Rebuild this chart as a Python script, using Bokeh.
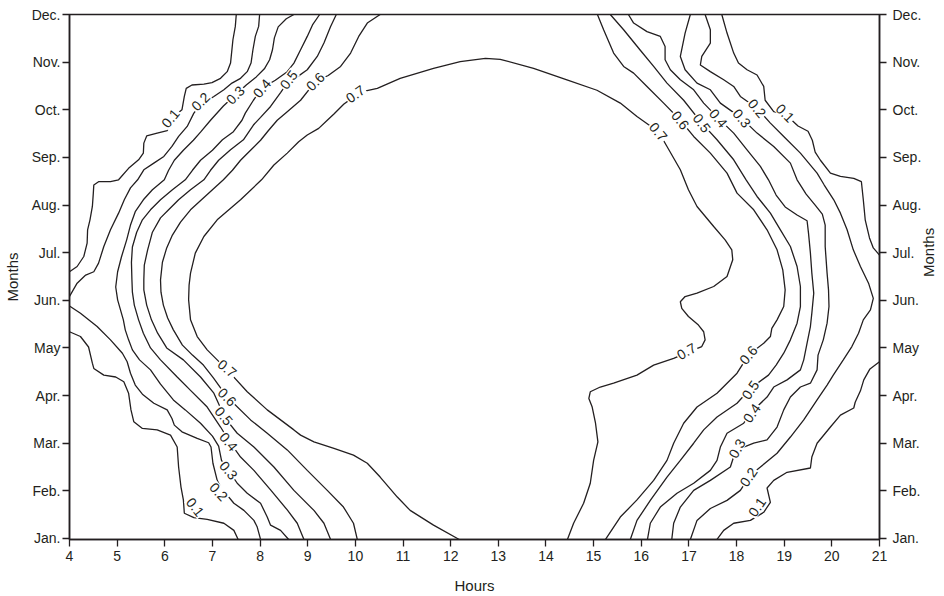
import math
from bokeh.plotting import figure
from bokeh.models import Range1d, FixedTicker, LinearAxis, Text
from bokeh.embed import file_html
from bokeh.resources import INLINE
from bokeh.core.properties import value

# ---------------- axis data ----------------
hour_ticks = list(range(4, 22))
month_ticks = list(range(1, 13))
month_labels = ["Jan.", "Feb.", "Mar.", "Apr.", "May", "Jun.",
                "Jul.", "Aug.", "Sep.", "Oct.", "Nov.", "Dec."]

# ---------------- contour lines (hour of day, month index 1=Jan .. 12=Dec) ----------------
# level 0.1, morning, upper branch
c01_am_up_h = [7.50, 7.48, 7.43, 7.38, 7.31, 7.17, 6.99, 6.82, 6.57, 6.45, 6.41, 6.36, 6.20, 6.05, 5.84, 5.62,
               5.56, 5.55, 5.45, 5.24, 5.03, 4.86, 4.61, 4.51, 4.50, 4.48, 4.43, 4.38, 4.37, 4.30, 4.16, 4.00]
c01_am_up_m = [12.00, 11.75, 11.47, 10.98, 10.80, 10.66, 10.57, 10.54, 10.52, 10.45, 10.28, 10.00, 9.87, 9.56,
               9.51, 9.45, 9.30, 9.09, 8.95, 8.77, 8.53, 8.49, 8.49, 8.42, 8.25, 7.97, 7.69, 7.48, 7.20, 6.92,
               6.71, 6.60]
# level 0.1, morning, lower branch
c01_am_lo_h = [4.00, 4.23, 4.40, 4.48, 4.51, 4.72, 4.97, 5.14, 5.24, 5.29, 5.35, 5.53, 5.84, 6.12, 6.26, 6.29,
               6.34, 6.39, 6.41, 6.61, 6.89, 7.24, 7.45, 7.54]
c01_am_lo_m = [5.34, 5.24, 5.02, 4.68, 4.57, 4.43, 4.39, 4.29, 4.05, 3.70, 3.45, 3.31, 3.28, 3.17, 2.92, 2.50,
               2.08, 1.81, 1.53, 1.44, 1.40, 1.32, 1.17, 0.98]
# level 0.2, morning, upper branch
c02_am_up_h = [7.99, 7.97, 7.90, 7.85, 7.81, 7.73, 7.59, 7.41, 7.24, 7.03, 6.75, 6.61, 6.47, 6.29, 6.15, 5.98,
               5.77, 5.56, 5.43, 5.28, 5.15, 5.03, 4.86, 4.72, 4.61, 4.51, 4.34, 4.16, 4.00]
c02_am_up_m = [12.00, 11.75, 11.54, 11.26, 10.98, 10.80, 10.66, 10.56, 10.42, 10.28, 10.10, 9.93, 9.65, 9.44,
               9.23, 9.02, 8.88, 8.74, 8.53, 8.36, 8.11, 7.83, 7.48, 7.13, 6.78, 6.60, 6.53, 6.36, 6.08]
# level 0.2, morning, lower branch
c02_am_lo_h = [4.00, 4.23, 4.58, 4.86, 5.11, 5.21, 5.28, 5.38, 5.53, 5.77, 6.05, 6.15, 6.20, 6.36, 6.68, 6.92,
               6.97, 7.01, 7.10, 7.17, 7.45, 7.66, 7.87, 7.94, 8.01]
c02_am_lo_m = [5.88, 5.73, 5.45, 5.17, 4.89, 4.71, 4.47, 4.22, 4.03, 3.84, 3.70, 3.52, 3.38, 3.24, 3.10, 3.01,
               2.92, 2.58, 2.22, 2.08, 1.74, 1.59, 1.38, 1.24, 0.98]
# level 0.3, morning
c03_am_h = [8.71, 8.55, 8.38, 8.30, 8.26, 8.20, 8.09, 7.92, 7.71, 7.48, 7.23, 6.96, 6.75, 6.60, 6.39, 6.20,
            6.08, 5.99, 5.74, 5.55, 5.38, 5.28, 5.20, 5.09, 5.01, 4.97, 5.01, 5.07, 5.13, 5.17, 5.24, 5.32,
            5.47, 5.70, 5.91, 6.18, 6.43, 6.75, 7.00, 7.13, 7.19, 7.34, 7.52, 7.73, 8.01, 8.15, 8.22, 8.43, 8.60]
c03_am_m = [12.00, 11.91, 11.74, 11.51, 11.26, 11.05, 10.86, 10.69, 10.52, 10.31, 10.08, 9.78, 9.53, 9.36,
            9.15, 8.94, 8.73, 8.53, 8.32, 8.11, 7.86, 7.58, 7.27, 6.91, 6.60, 6.28, 6.01, 5.80, 5.59, 5.38,
            5.17, 4.96, 4.75, 4.54, 4.24, 3.91, 3.70, 3.42, 3.15, 2.94, 2.64, 2.43, 2.16, 1.95, 1.74, 1.45,
            1.28, 1.17, 0.98]
# level 0.4, morning
c04_am_h = [9.25, 9.10, 8.99, 8.85, 8.71, 8.57, 8.32, 8.05, 7.86, 7.69, 7.62, 7.44, 7.21, 7.00, 6.75, 6.58,
            6.43, 6.16, 5.91, 5.70, 5.53, 5.41, 5.32, 5.30, 5.31, 5.32, 5.36, 5.45, 5.55, 5.70, 5.91, 6.26,
            6.54, 6.89, 7.17, 7.38, 7.59, 7.87, 8.22, 8.57, 8.78, 8.92]
c04_am_m = [12.00, 11.78, 11.54, 11.26, 10.98, 10.80, 10.62, 10.46, 10.20, 9.93, 9.78, 9.54, 9.37, 9.15, 8.94,
            8.73, 8.53, 8.32, 8.11, 7.90, 7.69, 7.43, 7.12, 6.80, 6.43, 6.17, 5.90, 5.59, 5.31, 5.00, 4.75,
            4.39, 4.11, 3.76, 3.34, 3.00, 2.71, 2.43, 2.02, 1.60, 1.32, 0.98]
# level 0.5, morning
c05_am_h = [9.60, 9.48, 9.34, 9.20, 8.99, 8.78, 8.59, 8.43, 8.22, 8.01, 7.86, 7.65, 7.38, 7.13, 6.96, 6.82,
            6.54, 6.29, 6.08, 5.91, 5.74, 5.64, 5.57, 5.56, 5.56, 5.62, 5.72, 5.85, 6.04, 6.39, 6.75, 7.03,
            7.27, 7.52, 7.87, 8.29, 8.71, 9.13, 9.34, 9.48]
c05_am_m = [12.00, 11.75, 11.40, 11.12, 10.84, 10.69, 10.59, 10.36, 10.07, 9.84, 9.68, 9.37, 9.16, 8.94, 8.73,
            8.53, 8.32, 8.11, 7.90, 7.73, 7.43, 7.06, 6.74, 6.43, 6.22, 5.90, 5.59, 5.31, 5.00, 4.75, 4.39,
            4.05, 3.52, 3.21, 2.92, 2.50, 2.01, 1.59, 1.32, 0.98]
# level 0.6, morning
c06_am_h = [10.52, 10.25, 10.07, 9.90, 9.69, 9.43, 9.16, 8.85, 8.57, 8.36, 8.18, 8.01, 7.80, 7.59, 7.42, 7.23,
            7.00, 6.77, 6.54, 6.33, 6.16, 6.04, 5.95, 5.91, 5.92, 5.97, 6.06, 6.18, 6.37, 6.58, 6.81, 7.02,
            7.31, 7.80, 8.15, 8.57, 8.99, 9.41, 9.75, 9.96, 10.04]
c06_am_m = [12.00, 11.82, 11.54, 11.19, 10.91, 10.72, 10.59, 10.20, 9.96, 9.78, 9.57, 9.36, 9.15, 8.94, 8.73,
            8.53, 8.32, 8.11, 7.90, 7.64, 7.37, 7.10, 6.80, 6.43, 6.17, 5.90, 5.63, 5.38, 5.06, 4.85, 4.64,
            4.37, 3.97, 3.49, 3.21, 2.86, 2.43, 2.01, 1.66, 1.32, 0.98]
# level 0.7 (one curve around the midday plateau)
c07_h = [12.18, 11.64, 11.15, 10.88, 10.52, 10.25, 9.96, 9.55, 9.13, 8.85, 8.71, 8.15, 7.73, 7.31, 6.89, 6.68,
         6.54, 6.50, 6.51, 6.54, 6.64, 6.82, 7.10, 7.59, 8.03, 8.29, 8.57, 8.81, 8.99, 9.23, 9.41, 9.55, 9.76,
         9.94, 10.15, 10.46, 10.94, 11.64, 12.20, 12.73, 13.04, 13.74, 14.44, 15.07, 15.56, 15.91, 16.36,
         16.54, 16.82, 16.99, 17.17, 17.52, 17.76, 17.90, 17.92, 17.80, 17.52, 17.17, 16.92, 16.82, 16.85,
         16.99, 17.20, 17.31, 17.34, 17.27, 17.10, 16.68, 16.26, 15.91, 15.42, 15.14, 14.93, 14.90, 14.97,
         15.04, 15.09, 15.00, 14.93, 14.79, 14.58, 14.45]
c07_m = [0.98, 1.28, 1.59, 1.87, 2.29, 2.58, 2.75, 2.89, 3.03, 3.17, 3.28, 3.70, 4.08, 4.54, 4.96, 5.24, 5.59,
         6.01, 6.32, 6.57, 6.99, 7.34, 7.69, 8.11, 8.53, 8.84, 9.09, 9.33, 9.47, 9.61, 9.78, 9.91, 10.12, 10.25,
         10.38, 10.45, 10.66, 10.87, 11.01, 11.08, 11.06, 10.87, 10.63, 10.41, 10.14, 9.86, 9.54, 9.23, 8.74,
         8.32, 7.97, 7.55, 7.27, 7.06, 6.85, 6.50, 6.29, 6.15, 6.08, 5.97, 5.83, 5.66, 5.48, 5.34, 5.17, 5.03,
         4.96, 4.78, 4.64, 4.43, 4.26, 4.18, 4.08, 3.94, 3.76, 3.42, 3.03, 2.64, 2.16, 1.74, 1.32, 0.98]
# level 0.1, evening, upper branch
c01_pm_up_h = [17.69, 17.80, 17.94, 18.04, 18.22, 18.43, 18.57, 18.60, 18.78, 19.02, 19.29, 19.50, 19.59,
               19.65, 19.76, 19.97, 20.18, 20.46, 20.62, 20.66, 20.70, 20.79, 20.87, 21.00]
c01_pm_up_m = [12.00, 11.61, 11.19, 10.98, 10.84, 10.73, 10.49, 10.20, 9.96, 9.91, 9.66, 9.55, 9.36, 9.11,
               8.94, 8.67, 8.60, 8.56, 8.49, 8.11, 7.69, 7.31, 7.10, 6.95]
# level 0.1, evening, lower branch
c01_pm_lo_h = [21.00, 20.80, 20.67, 20.60, 20.49, 20.46, 20.18, 19.97, 19.69, 19.58, 19.55, 19.06, 18.78,
               18.64, 18.71, 18.57, 18.29, 17.94, 17.73, 17.59]
c01_pm_lo_m = [4.71, 4.56, 4.33, 4.10, 3.86, 3.74, 3.59, 3.34, 3.00, 2.71, 2.48, 2.39, 2.22, 2.06, 1.76, 1.55,
               1.38, 1.32, 1.17, 0.98]
# level 0.2, evening
c02_pm_h = [17.34, 17.45, 17.45, 17.27, 17.24, 17.45, 17.73, 17.94, 18.08, 18.43, 18.71, 18.99, 19.34, 19.69,
            19.84, 20.04, 20.18, 20.32, 20.45, 20.60, 20.77, 20.87, 20.81, 20.66, 20.56, 20.42, 20.24, 20.03,
            19.90, 19.69, 19.41, 19.13, 18.85, 18.50, 18.29, 18.08, 17.80, 17.45, 17.17, 17.03]
c02_pm_m = [12.00, 11.68, 11.40, 11.12, 10.94, 10.80, 10.63, 10.49, 10.28, 10.03, 9.72, 9.44, 9.09, 8.67,
            8.42, 8.11, 7.83, 7.48, 7.06, 6.71, 6.36, 6.04, 5.80, 5.59, 5.31, 5.03, 4.75, 4.43, 4.22, 3.91,
            3.49, 3.13, 2.79, 2.50, 2.33, 2.01, 1.80, 1.63, 1.38, 0.98]
# level 0.3, evening
c03_pm_h = [17.03, 16.92, 16.82, 16.92, 17.17, 17.45, 17.66, 18.11, 18.43, 18.78, 19.13, 19.27, 19.46, 19.65,
            19.80, 19.86, 19.86, 19.90, 19.93, 19.94, 19.90, 19.82, 19.71, 19.69, 19.55, 19.34, 19.13, 18.99,
            18.85, 18.64, 18.36, 18.15, 17.97, 17.87, 17.45, 17.10, 16.82, 16.68, 16.64]
c03_pm_m = [12.00, 11.61, 11.12, 10.84, 10.56, 10.42, 10.14, 9.82, 9.51, 9.23, 8.88, 8.53, 8.23, 8.00, 7.81,
            7.58, 7.13, 6.57, 6.22, 5.87, 5.52, 5.17, 4.85, 4.54, 4.26, 4.18, 3.97, 3.70, 3.34, 3.07, 3.00,
            2.92, 2.81, 2.50, 2.22, 2.01, 1.66, 1.32, 0.98]
# level 0.4, evening
c04_pm_h = [15.73, 15.84, 16.12, 16.40, 16.50, 16.50, 16.61, 16.82, 17.10, 17.31, 17.62, 17.94, 18.22, 18.50,
            18.67, 18.83, 19.02, 19.27, 19.48, 19.51, 19.55, 19.58, 19.62, 19.58, 19.55, 19.48, 19.41, 19.34,
            19.06, 18.78, 18.64, 18.32, 18.15, 17.80, 17.66, 17.59, 17.45, 17.10, 16.75, 16.40, 16.19, 16.13]
c04_pm_m = [12.00, 11.82, 11.64, 11.54, 11.33, 11.05, 10.84, 10.63, 10.42, 10.14, 9.82, 9.51, 9.16, 8.81,
            8.53, 8.21, 7.96, 7.79, 7.67, 7.41, 6.99, 6.57, 6.15, 5.73, 5.45, 5.10, 4.75, 4.54, 4.33, 4.18,
            3.97, 3.66, 3.42, 3.21, 2.92, 2.64, 2.43, 2.16, 1.95, 1.66, 1.32, 0.98]
# level 0.5, evening
c05_pm_h = [15.35, 15.63, 15.98, 16.26, 16.54, 16.89, 17.27, 17.59, 17.94, 18.20, 18.43, 18.71, 18.92, 19.13,
            19.27, 19.34, 19.34, 19.27, 19.13, 18.99, 18.83, 18.67, 18.29, 18.01, 17.59, 17.31, 17.10, 16.82,
            16.54, 16.19, 15.91, 15.77]
c05_pm_m = [12.00, 11.68, 11.25, 10.91, 10.56, 10.20, 9.72, 9.37, 8.95, 8.53, 8.18, 7.83, 7.48, 7.13, 6.71,
            6.29, 5.87, 5.52, 5.17, 4.89, 4.64, 4.43, 4.15, 3.84, 3.55, 3.28, 3.00, 2.64, 2.29, 1.80, 1.38, 0.98]
# level 0.6, evening
c06_pm_h = [15.08, 15.21, 15.42, 15.63, 15.84, 16.12, 16.47, 16.82, 17.10, 17.45, 17.80, 18.01, 18.36, 18.64,
            18.85, 18.97, 19.02, 18.99, 18.85, 18.74, 18.71, 18.57, 18.25, 18.01, 17.59, 17.17, 16.89, 16.68,
            16.54, 16.26, 15.91, 15.56, 15.25]
c06_pm_m = [12.00, 11.68, 11.19, 10.91, 10.77, 10.49, 10.14, 9.78, 9.44, 9.09, 8.67, 8.25, 7.90, 7.48, 7.06,
            6.64, 6.22, 5.87, 5.59, 5.41, 5.24, 5.10, 4.85, 4.47, 4.05, 3.76, 3.42, 3.00, 2.64, 2.22, 1.81,
            1.45, 0.98]

# ---------------- inline contour labels ----------------
label_text = ["0.1", "0.2", "0.3", "0.4", "0.5", "0.6", "0.7",
              "0.7", "0.6", "0.5", "0.4", "0.3", "0.2", "0.1",
              "0.7", "0.6", "0.5", "0.4", "0.3", "0.2", "0.1",
              "0.7", "0.6", "0.5", "0.4", "0.3", "0.2", "0.1"]
label_hours = [6.12, 6.75, 7.48, 8.04, 8.60, 9.16, 10.00,
               7.31, 7.31, 7.24, 7.34, 7.34, 7.13, 6.64,
               16.36, 16.82, 17.27, 17.62, 18.11, 18.43, 19.02,
               16.95, 18.25, 18.29, 18.32, 18.01, 18.25, 18.43]
label_months = [9.82, 10.17, 10.31, 10.45, 10.63, 10.59, 10.33,
                4.57, 3.97, 3.57, 3.03, 2.43, 1.98, 1.66,
                9.54, 9.78, 9.72, 9.82, 9.82, 10.03, 9.93,
                4.93, 4.85, 4.12, 3.63, 2.89, 2.29, 1.66]
label_angle = [50, 45, 45, 50, 52, 45, 35,
               -40, -45, -50, -50, -50, -48, -52,
               -50, -52, -53, -50, -50, -50, -45,
               30, 50, 55, 55, 60, 55, 55]

contours = [
    (c01_am_up_h, c01_am_up_m), (c01_am_lo_h, c01_am_lo_m),
    (c02_am_up_h, c02_am_up_m), (c02_am_lo_h, c02_am_lo_m),
    (c03_am_h, c03_am_m), (c04_am_h, c04_am_m), (c05_am_h, c05_am_m), (c06_am_h, c06_am_m),
    (c07_h, c07_m),
    (c01_pm_up_h, c01_pm_up_m), (c01_pm_lo_h, c01_pm_lo_m),
    (c02_pm_h, c02_pm_m), (c03_pm_h, c03_pm_m), (c04_pm_h, c04_pm_m),
    (c05_pm_h, c05_pm_m), (c06_pm_h, c06_pm_m),
]

INK = "#231f20"
FONT = "Liberation Sans"

p = figure(frame_width=810, frame_height=525,
           x_range=Range1d(4, 21), y_range=Range1d(0.979, 12),
           output_backend="svg", toolbar_location=None,
           min_border_left=63, min_border_right=57, min_border_top=14, min_border_bottom=50,
           background_fill_color="white", border_fill_color="white")
p.grid.visible = False
p.outline_line_color = INK
p.outline_line_width = 1.5

for hs, ms in contours:
    p.line(hs, ms, line_color=INK, line_width=1.3)

text_kwargs = dict(x=label_hours, y=label_months, text=label_text, angle=label_angle, angle_units="deg",
                   text_font=value(FONT), text_font_size="14px", text_color=INK,
                   text_align="center", text_baseline="middle")
props = Text.properties()
if "background_fill_color" in props:
    text_kwargs["background_fill_color"] = "white"
if "padding" in props:
    text_kwargs["padding"] = 1
p.text(**text_kwargs)


def style_axis(ax):
    ax.axis_line_color = INK
    ax.axis_line_width = 1.5
    ax.major_tick_line_color = INK
    ax.major_tick_line_width = 1.3
    ax.major_tick_in = 0
    ax.major_tick_out = 7
    ax.minor_tick_line_color = None
    ax.major_label_text_font = FONT
    ax.major_label_text_font_size = "14px"
    ax.major_label_text_color = INK
    ax.axis_label_text_font = FONT
    ax.axis_label_text_font_size = "15px"
    ax.axis_label_text_font_style = "normal"
    ax.axis_label_text_color = INK


xa = p.xaxis[0]
xa.ticker = FixedTicker(ticks=hour_ticks)
xa.axis_label = "Hours"
style_axis(xa)
xa.major_label_standoff = 4
xa.axis_label_standoff = 13

ya = p.yaxis[0]
ya.ticker = FixedTicker(ticks=month_ticks)
ya.major_label_overrides = {m: lab for m, lab in zip(month_ticks, month_labels)}
ya.axis_label = "Months"
style_axis(ya)
ya.major_label_standoff = 2
ya.axis_label_standoff = 8

ry = LinearAxis(ticker=FixedTicker(ticks=month_ticks),
                major_label_overrides={m: lab for m, lab in zip(month_ticks, month_labels)},
                axis_label="Months")
style_axis(ry)
ry.major_label_standoff = 6
ry.axis_label_standoff = 4
if "axis_label_orientation" in LinearAxis.properties():
    ry.axis_label_orientation = math.pi / 2
p.add_layout(ry, "right")

open("out.html", "w").write(file_html(p, INLINE))
